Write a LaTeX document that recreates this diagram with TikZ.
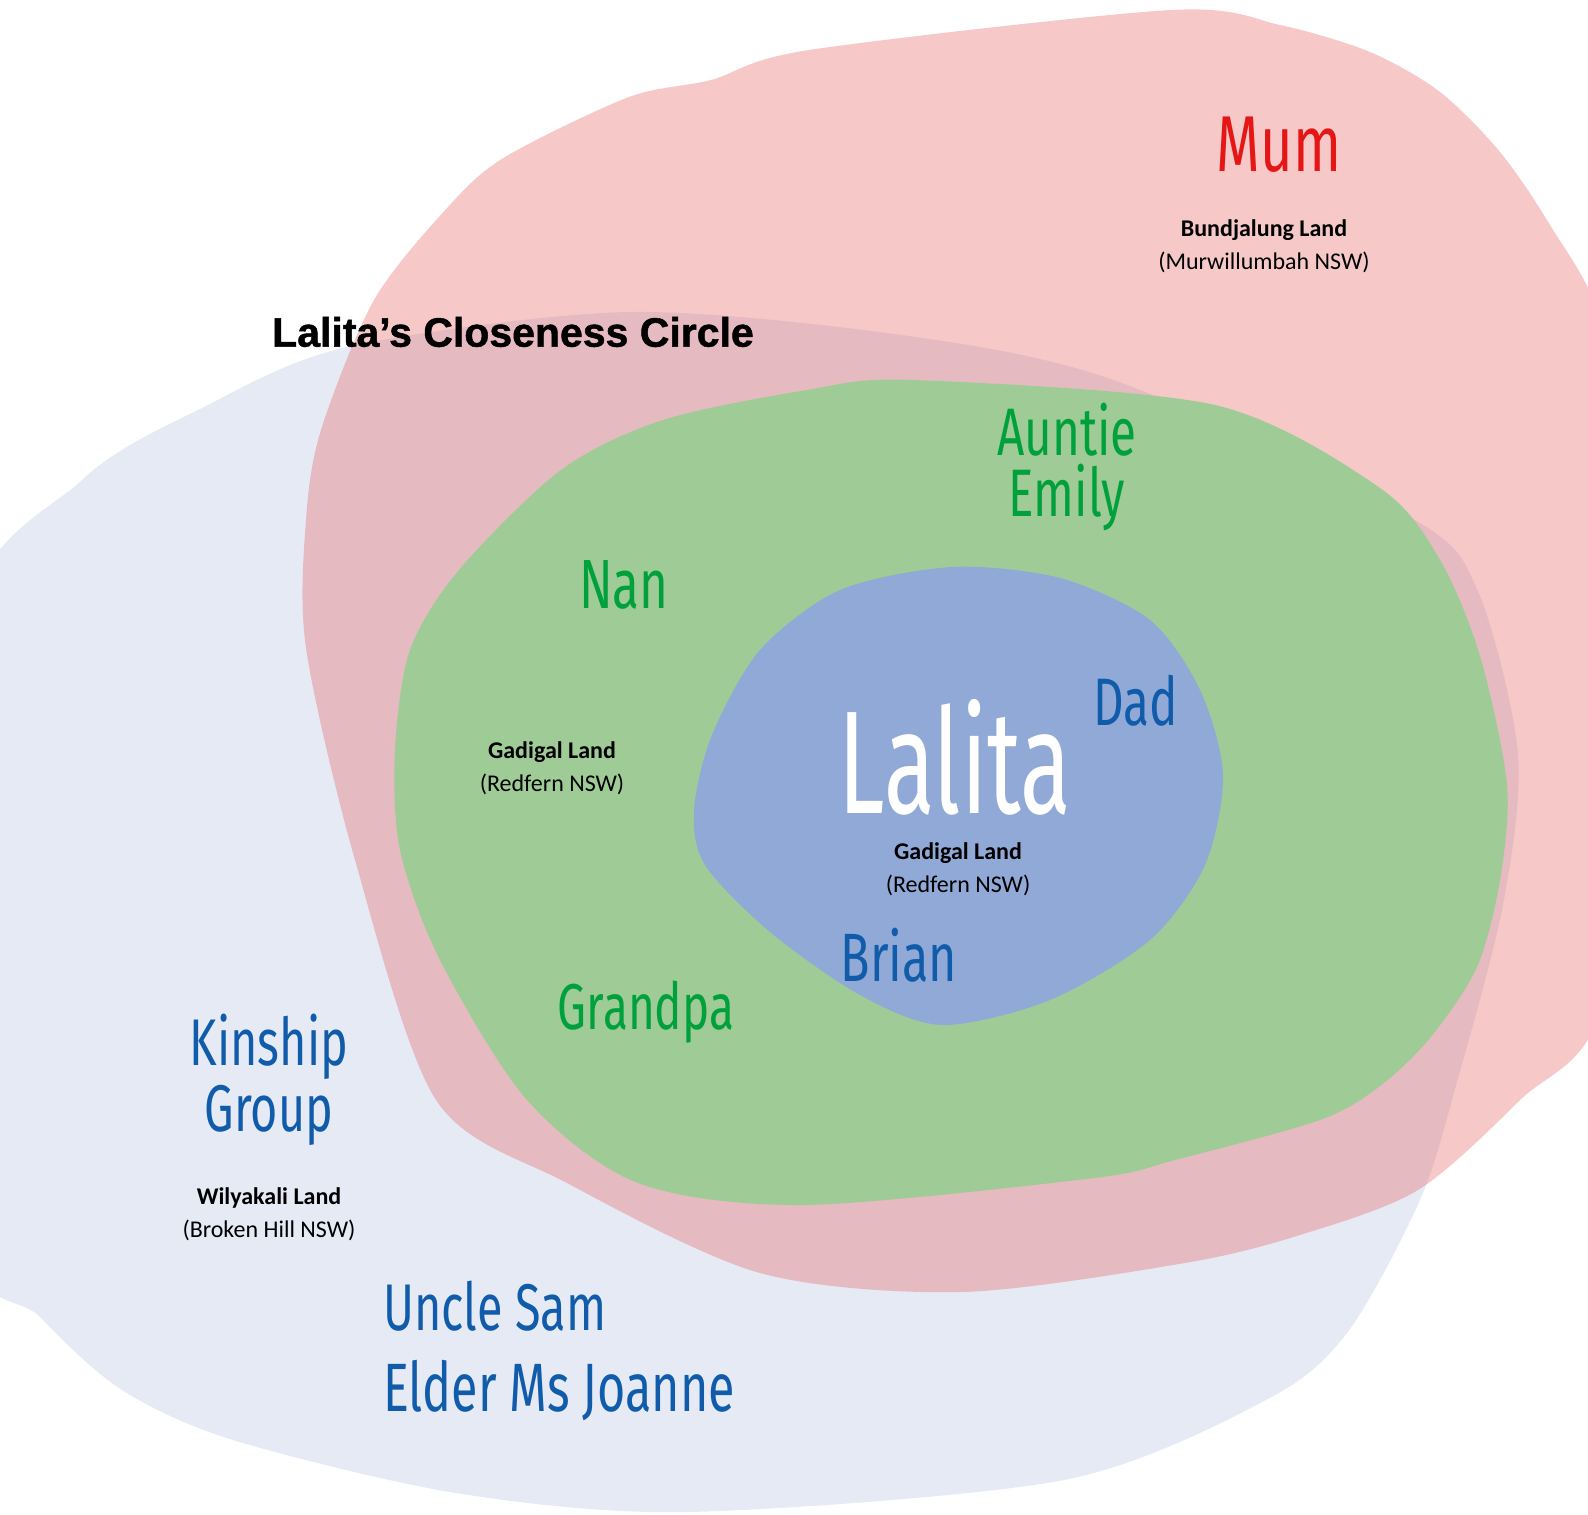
\documentclass[tikz,border=0pt]{standalone}
\usepackage{fontspec}
\setmainfont{Carlito}
\newfontfamily\handfont{Fira Sans}
\newfontfamily\titlefont{Liberation Sans}[BoldFeatures={FakeBold=1.2}]
\usetikzlibrary{positioning}
\definecolor{kinlav}{HTML}{E6EAF5}
\definecolor{mumpink}{RGB}{229,98,98}
\definecolor{famgreen}{HTML}{9FCC96}
\definecolor{homeblue}{HTML}{91A9D7}
\definecolor{textgreen}{RGB}{0,160,60}
\definecolor{textblue}{RGB}{16,92,170}
\definecolor{textred}{RGB}{228,22,22}
\newcommand{\handat}[2]{\handfont\fontsize{#1}{#2}\selectfont}

\begin{document}
\begin{tikzpicture}[
x=1pt,y=-1pt,
blob/.style={
  draw=none,
  },
hand/.style={
  xscale=0.85,
  yscale=1.2,
  inner sep=0pt,
  align=center
  },
land/.style={
  align=center,
  inner sep=1pt,
  text=black,
  font=\fontsize{24}{33}\selectfont
  }
]
\useasboundingbox (0,0) rectangle (1588,1515);
\clip (0,0) rectangle (1588,1515);
\fill[blob,kinlav] plot[smooth cycle] coordinates {(-40,640) (82,480) (204,407) (347,347) (629,312) (916,337) (1122,383) (1410,517) (1477,589) (1518,754) (1503,905) (1457,1082) (1420,1200) (1347,1333) (1266,1400) (1064,1480) (689,1512) (456,1493) (233,1440) (122,1390) (40,1317) (-40,1220)};
\fill[blob,mumpink,fill opacity=0.35] plot[smooth cycle] coordinates {(1171,10) (1280,25) (1370,52) (1440,92) (1500,152) (1550,225) (1600,320) (1620,500) (1620,700) (1600,1010) (1520,1100) (1418,1190) (1300,1235) (1185,1263) (962,1292) (760,1273) (567,1183) (436,1100) (355,860) (306,648) (306,520) (321,430) (374,300) (448,207) (505,157) (629,97) (711,80) (809,50)};
\fill[blob,famgreen] plot[smooth cycle] coordinates {(807,390) (912,380) (1215,405) (1380,488) (1440,560) (1480,656) (1507,785) (1500,880) (1477,967) (1430,1038) (1380,1086) (1320,1120) (1175,1160) (1094,1178) (805,1205) (638,1183) (527,1100) (440,960) (400,850) (395,750) (410,650) (459,570) (561,470) (663,420)};
\fill[blob,homeblue] plot[smooth cycle] coordinates {(952,567) (1060,578) (1150,620) (1200,690) (1223,775) (1205,865) (1150,940) (1050,1000) (942,1025) (860,995) (770,932) (705,865) (694,810) (712,735) (760,650) (840,590)};

\node[font=\titlefont\bfseries\fontsize{41}{41}\selectfont] (title) at (513,332) {Lalita’s Closeness Circle};

\node[hand,text=textred,font=\handat{66}{60}] (mum) at (1279,145) {Mum};
\node[land] (bundjalung) at (1264,246) {\textbf{Bundjalung Land}\\(Murwillumbah NSW)};

\node[hand,text=textgreen,font=\handat{56}{51}] (auntie) at (1067,467) {Auntie\\Emily};
\node[hand,text=textgreen,font=\handat{58}{52}] (nan) at (624,585) {Nan};
\node[land] (gadigalA) at (552,768) {\textbf{Gadigal Land}\\(Redfern NSW)};
\node[hand,text=textgreen,font=\handat{54}{50}] (grandpa) at (646,1012) {Grandpa};

\node[hand,xscale=0.9,text=white,font=\handat{122}{110}] (lalita) at (955,757) {Lalita};
\node[hand,text=textblue,font=\handat{56}{51}] (dad) at (1136,701) {Dad};
\node[land] (gadigalB) at (958,869) {\textbf{Gadigal Land}\\(Redfern NSW)};
\node[hand,text=textblue,font=\handat{57}{52}] (brian) at (899,955) {Brian};

\node[hand,text=textblue,font=\handat{55}{55}] (kinship) at (269,1080) {Kinship\\Group};
\node[land] (wilyakali) at (269,1214) {\textbf{Wilyakali Land}\\(Broken Hill NSW)};
\node[hand,text=textblue,font=\handat{55}{55},anchor=base west] (uncle) at (383,1330) {Uncle Sam};
\node[hand,text=textblue,font=\handat{57}{55},anchor=base west] (elder) at (383,1411) {Elder Ms Joanne};
\end{tikzpicture}
\end{document}
